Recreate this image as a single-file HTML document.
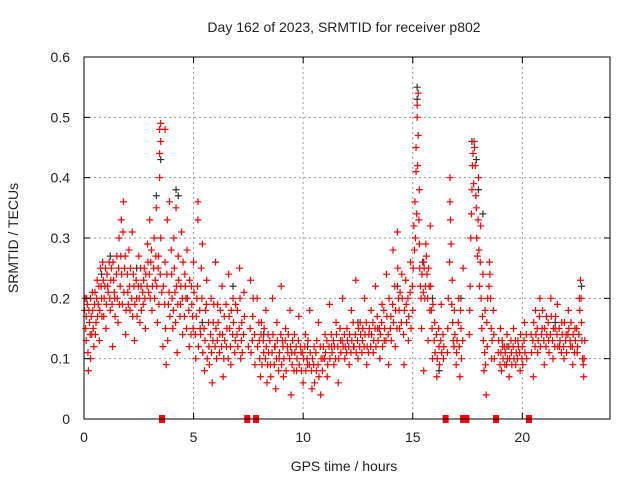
<!DOCTYPE html>
<html><head><meta charset="utf-8"><style>
html,body{margin:0;padding:0;background:#fff;}
svg{display:block;font-family:"Liberation Sans",sans-serif;}
</style></head><body>
<svg id="chart" width="640" height="480">
<rect width="640" height="480" fill="#fff"/>
<g id="grid"></g>
<g id="marks"></g>
<rect x="84" y="57" width="526" height="362" fill="none" stroke="#000" stroke-width="1"/>
<g id="ticks"></g>
<text x="344" y="32" text-anchor="middle" font-size="14" fill="#222">Day 162 of 2023, SRMTID for receiver p802</text>
<text x="344" y="471" text-anchor="middle" font-size="14" fill="#222">GPS time / hours</text>
<text transform="translate(18,238) rotate(-90)" text-anchor="middle" font-size="14" fill="#222">SRMTID / TECUs</text>
</svg>
<script>
const xTicks=[0,5,10,15,20];
const yTicks=[0,0.1,0.2,0.3,0.4,0.5,0.6];
const yTickLabels=["0","0.1","0.2","0.3","0.4","0.5","0.6"];
const gapHours=[3.56,7.45,7.85,16.5,17.3,17.45,18.8,20.3];
const blackPts=[[0.8,0.24],[1.2,0.27],[2.4,0.25],[3.3,0.37],[3.5,0.43],[4.2,0.38],[4.3,0.37],[5.4,0.16],[6.8,0.22],[8.2,0.14],[10.2,0.12],[12.5,0.16],[14.3,0.22],[15.2,0.55],[15.2,0.53],[15.5,0.26],[15.9,0.2],[16.2,0.08],[17.2,0.2],[17.7,0.46],[17.9,0.43],[18.0,0.38],[18.2,0.34],[19.3,0.12],[21.5,0.16],[22.7,0.22]];
const redPts=[
[0.05,0.2],[0.1,0.17],[0.1,0.13],[0.15,0.19],[0.2,0.08],[0.25,0.16],[0.3,0.1],[0.3,0.2],[0.35,0.14],[0.4,0.18],[0.45,0.12],[0.5,0.21],[0.55,0.16],[0.6,0.23],[0.65,0.19],[0.7,0.13],[0.75,0.25],[0.8,0.2],[0.85,0.26],[0.9,0.17],[0.95,0.22],[1.0,0.15],[1.05,0.24],[1.1,0.21],[1.2,0.18],[1.25,0.25],[1.3,0.12],[1.35,0.23],[1.4,0.2],[1.5,0.27],[1.55,0.16],[1.6,0.3],[1.65,0.22],[1.7,0.33],[1.75,0.19],[1.8,0.36],[1.85,0.25],[1.9,0.14],[2.0,0.21],[2.05,0.28],[2.1,0.18],[2.2,0.31],[2.25,0.24],[2.3,0.13],[2.4,0.2],[2.5,0.27],[2.55,0.16],[2.6,0.22],[2.7,0.19],[2.75,0.25],[2.8,0.15],[2.9,0.29],[2.95,0.21],[3.0,0.33],[3.05,0.26],[3.1,0.18],[3.2,0.3],[3.25,0.23],[3.3,0.35],[3.35,0.16],[3.4,0.27],[3.45,0.4],[3.45,0.44],[3.45,0.48],[3.5,0.49],[3.5,0.46],[3.5,0.3],[3.55,0.21],[3.6,0.12],[3.7,0.48],[3.7,0.26],[3.75,0.09],[3.8,0.33],[3.85,0.19],[3.9,0.36],[4.0,0.24],[4.05,0.15],[4.1,0.3],[4.15,0.21],[4.2,0.35],[4.25,0.11],[4.3,0.27],[4.4,0.19],[4.45,0.31],[4.5,0.14],[4.6,0.24],[4.65,0.2],[4.7,0.28],[4.8,0.12],[4.9,0.22],[4.95,0.17],[5.0,0.26],[5.1,0.1],[5.15,0.2],[5.2,0.36],[5.2,0.33],[5.3,0.15],[5.35,0.25],[5.4,0.29],[5.5,0.08],[5.55,0.18],[5.6,0.23],[5.7,0.12],[5.8,0.2],[5.85,0.06],[5.9,0.16],[6.0,0.26],[6.05,0.1],[6.1,0.19],[6.2,0.14],[6.3,0.22],[6.35,0.07],[6.4,0.17],[6.5,0.12],[6.6,0.24],[6.65,0.15],[6.7,0.09],[6.8,0.2],[6.9,0.13],[7.0,0.18],[7.1,0.25],[7.15,0.1],[7.2,0.16],[7.3,0.21],[7.5,0.12],[7.6,0.23],[7.7,0.17],[7.8,0.09],[7.9,0.2],[8.0,0.13],[8.05,0.07],[8.1,0.16],[8.2,0.11],[8.3,0.18],[8.35,0.06],[8.4,0.14],[8.5,0.09],[8.6,0.2],[8.7,0.12],[8.75,0.05],[8.8,0.16],[8.9,0.1],[9.0,0.22],[9.05,0.13],[9.1,0.07],[9.2,0.15],[9.3,0.11],[9.4,0.18],[9.45,0.04],[9.5,0.09],[9.6,0.14],[9.7,0.08],[9.8,0.17],[9.9,0.11],[10.0,0.06],[10.1,0.14],[10.2,0.09],[10.3,0.18],[10.4,0.05],[10.5,0.12],[10.6,0.08],[10.7,0.16],[10.8,0.04],[10.9,0.1],[11.0,0.14],[11.1,0.07],[11.2,0.19],[11.3,0.12],[11.4,0.09],[11.5,0.16],[11.6,0.06],[11.7,0.13],[11.8,0.2],[11.9,0.1],[12.0,0.15],[12.1,0.09],[12.2,0.18],[12.3,0.12],[12.4,0.23],[12.5,0.1],[12.6,0.16],[12.7,0.13],[12.8,0.2],[12.9,0.09],[13.0,0.14],[13.1,0.18],[13.2,0.11],[13.3,0.22],[13.4,0.15],[13.5,0.1],[13.6,0.19],[13.7,0.13],[13.8,0.24],[13.9,0.09],[14.0,0.17],[14.1,0.28],[14.2,0.12],[14.3,0.31],[14.35,0.2],[14.4,0.15],[14.5,0.24],[14.6,0.09],[14.7,0.19],[14.8,0.13],[14.9,0.26],[15.0,0.18],[15.05,0.32],[15.1,0.36],[15.15,0.41],[15.15,0.45],[15.2,0.5],[15.2,0.52],[15.25,0.54],[15.25,0.47],[15.3,0.38],[15.3,0.29],[15.35,0.22],[15.4,0.15],[15.45,0.26],[15.5,0.08],[15.55,0.2],[15.6,0.29],[15.65,0.24],[15.7,0.13],[15.75,0.22],[15.8,0.32],[15.85,0.18],[15.9,0.1],[16.0,0.16],[16.1,0.07],[16.2,0.12],[16.3,0.19],[16.4,0.1],[16.6,0.15],[16.7,0.4],[16.7,0.36],[16.75,0.29],[16.8,0.23],[16.85,0.13],[16.9,0.18],[17.0,0.11],[17.1,0.2],[17.15,0.07],[17.2,0.15],[17.3,0.25],[17.6,0.18],[17.65,0.3],[17.7,0.38],[17.75,0.44],[17.8,0.46],[17.85,0.42],[17.9,0.35],[17.95,0.27],[18.0,0.4],[18.05,0.22],[18.1,0.32],[18.15,0.15],[18.2,0.24],[18.25,0.08],[18.3,0.18],[18.35,0.04],[18.4,0.12],[18.5,0.26],[18.55,0.2],[18.6,0.1],[18.7,0.14],[18.9,0.11],[19.0,0.15],[19.05,0.08],[19.1,0.12],[19.2,0.09],[19.3,0.14],[19.4,0.07],[19.5,0.11],[19.6,0.15],[19.7,0.09],[19.8,0.13],[19.9,0.08],[20.0,0.12],[20.1,0.16],[20.2,0.1],[20.4,0.14],[20.5,0.07],[20.6,0.18],[20.7,0.11],[20.8,0.2],[20.9,0.15],[21.0,0.09],[21.1,0.17],[21.2,0.13],[21.3,0.2],[21.4,0.1],[21.5,0.15],[21.6,0.19],[21.7,0.12],[21.8,0.16],[21.9,0.1],[22.0,0.14],[22.1,0.18],[22.2,0.12],[22.3,0.09],[22.4,0.15],[22.5,0.11],[22.6,0.2],[22.65,0.23],[22.7,0.16],[22.75,0.1],[22.8,0.07],[22.85,0.13]
];
const redPts2=[
[0.02,0.18],[0.08,0.15],[0.12,0.2],[0.18,0.11],[0.22,0.18],[0.28,0.14],[0.33,0.17],[0.38,0.21],[0.42,0.15],[0.48,0.19],[0.52,0.14],[0.58,0.2],[0.62,0.17],[0.68,0.22],[0.72,0.18],[0.78,0.22],[0.82,0.17],[0.88,0.23],[0.92,0.2],[0.98,0.25],[1.02,0.19],[1.08,0.22],[1.15,0.26],[1.18,0.2],[1.22,0.23],[1.28,0.19],[1.32,0.26],[1.38,0.21],[1.42,0.17],[1.48,0.24],[1.52,0.2],[1.58,0.25],[1.62,0.19],[1.68,0.27],[1.72,0.24],[1.78,0.31],[1.82,0.21],[1.88,0.27],[1.92,0.18],[1.98,0.24],[2.02,0.19],[2.08,0.22],[2.12,0.25],[2.18,0.2],[2.22,0.17],[2.28,0.22],[2.32,0.19],[2.38,0.23],[2.42,0.17],[2.48,0.22],[2.52,0.2],[2.58,0.25],[2.62,0.18],[2.68,0.21],[2.72,0.23],[2.78,0.2],[2.82,0.24],[2.88,0.22],[2.92,0.26],[2.98,0.24],[3.02,0.2],[3.08,0.28],[3.12,0.22],[3.18,0.25],[3.22,0.2],[3.28,0.27],[3.32,0.22],[3.38,0.25],[3.42,0.19],[3.48,0.24],[3.62,0.22],[3.68,0.19],[3.72,0.15],[3.78,0.24],[3.82,0.13],[3.88,0.21],[3.92,0.17],[3.98,0.28],[4.02,0.2],[4.08,0.18],[4.12,0.25],[4.18,0.16],[4.22,0.22],[4.28,0.19],[4.32,0.23],[4.38,0.17],[4.42,0.22],[4.48,0.2],[4.52,0.26],[4.58,0.17],[4.62,0.22],[4.68,0.15],[4.72,0.2],[4.78,0.18],[4.82,0.23],[4.88,0.14],[4.92,0.19],[4.98,0.15],[5.02,0.21],[5.08,0.14],[5.12,0.17],[5.18,0.22],[5.22,0.12],[5.28,0.18],[5.32,0.14],[5.38,0.2],[5.42,0.11],[5.48,0.15],[5.52,0.13],[5.58,0.19],[5.62,0.1],[5.68,0.16],[5.72,0.09],[5.78,0.14],[5.82,0.11],[5.88,0.13],[5.92,0.19],[5.98,0.12],[6.02,0.15],[6.08,0.13],[6.12,0.16],[6.18,0.11],[6.22,0.18],[6.28,0.12],[6.32,0.14],[6.38,0.1],[6.42,0.13],[6.48,0.19],[6.52,0.15],[6.58,0.1],[6.62,0.17],[6.68,0.12],[6.72,0.18],[6.78,0.14],[6.82,0.16],[6.88,0.11],[6.92,0.19],[6.98,0.14],[7.02,0.12],[7.08,0.15],[7.12,0.2],[7.18,0.13],[7.22,0.11],[7.28,0.14],[7.32,0.17],[7.58,0.15],[7.62,0.11],[7.68,0.13],[7.72,0.2],[7.78,0.14],[7.92,0.12],[7.98,0.16],[8.02,0.1],[8.08,0.14],[8.12,0.09],[8.18,0.13],[8.22,0.15],[8.28,0.1],[8.32,0.12],[8.38,0.09],[8.42,0.11],[8.48,0.13],[8.52,0.07],[8.58,0.11],[8.62,0.14],[8.68,0.09],[8.72,0.12],[8.78,0.1],[8.82,0.13],[8.88,0.08],[8.92,0.11],[8.98,0.14],[9.02,0.09],[9.08,0.12],[9.12,0.1],[9.18,0.13],[9.22,0.08],[9.28,0.12],[9.32,0.14],[9.38,0.1],[9.42,0.12],[9.48,0.11],[9.52,0.13],[9.58,0.08],[9.62,0.11],[9.68,0.12],[9.72,0.1],[9.78,0.13],[9.82,0.09],[9.88,0.12],[9.92,0.08],[9.98,0.11],[10.02,0.1],[10.08,0.12],[10.12,0.08],[10.18,0.1],[10.22,0.13],[10.28,0.09],[10.32,0.11],[10.38,0.08],[10.42,0.1],[10.48,0.09],[10.52,0.06],[10.58,0.11],[10.62,0.13],[10.68,0.09],[10.72,0.07],[10.78,0.12],[10.82,0.1],[10.88,0.08],[10.92,0.12],[10.98,0.1],[11.02,0.11],[11.08,0.13],[11.12,0.09],[11.18,0.12],[11.22,0.1],[11.28,0.14],[11.32,0.11],[11.38,0.13],[11.42,0.12],[11.48,0.1],[11.52,0.14],[11.58,0.12],[11.62,0.1],[11.68,0.15],[11.72,0.11],[11.78,0.13],[11.82,0.12],[11.88,0.14],[11.92,0.12],[11.98,0.11],[12.02,0.13],[12.08,0.12],[12.12,0.14],[12.18,0.11],[12.22,0.13],[12.28,0.16],[12.32,0.12],[12.38,0.14],[12.42,0.11],[12.48,0.13],[12.52,0.15],[12.58,0.12],[12.62,0.14],[12.68,0.11],[12.72,0.15],[12.78,0.12],[12.82,0.14],[12.88,0.16],[12.92,0.12],[12.98,0.11],[13.02,0.15],[13.08,0.12],[13.12,0.14],[13.18,0.16],[13.22,0.13],[13.28,0.15],[13.32,0.12],[13.38,0.17],[13.42,0.13],[13.48,0.15],[13.52,0.14],[13.58,0.16],[13.62,0.12],[13.68,0.18],[13.72,0.15],[13.78,0.13],[13.82,0.17],[13.88,0.14],[13.92,0.2],[13.98,0.15],[14.02,0.13],[14.08,0.19],[14.12,0.16],[14.18,0.22],[14.22,0.18],[14.28,0.15],[14.32,0.25],[14.38,0.18],[14.42,0.21],[14.48,0.16],[14.52,0.2],[14.58,0.14],[14.62,0.18],[14.68,0.23],[14.72,0.16],[14.78,0.2],[14.82,0.17],[14.88,0.21],[14.92,0.15],[14.98,0.22],[15.02,0.25],[15.08,0.28],[15.12,0.3],[15.18,0.34],[15.22,0.42],[15.28,0.33],[15.32,0.25],[15.38,0.2],[15.42,0.24],[15.48,0.21],[15.52,0.25],[15.58,0.22],[15.62,0.27],[15.68,0.2],[15.72,0.25],[15.78,0.18],[15.82,0.22],[15.88,0.15],[15.92,0.19],[15.98,0.13],[16.02,0.11],[16.08,0.14],[16.12,0.1],[16.18,0.15],[16.22,0.09],[16.28,0.13],[16.32,0.11],[16.38,0.14],[16.42,0.12],[16.58,0.11],[16.62,0.2],[16.68,0.26],[16.72,0.33],[16.78,0.19],[16.82,0.16],[16.88,0.12],[16.92,0.14],[16.98,0.09],[17.02,0.13],[17.08,0.16],[17.12,0.12],[17.18,0.18],[17.22,0.1],[17.28,0.13],[17.58,0.14],[17.62,0.22],[17.68,0.34],[17.72,0.42],[17.78,0.39],[17.82,0.45],[17.88,0.37],[17.92,0.3],[17.98,0.33],[18.02,0.28],[18.08,0.26],[18.12,0.2],[18.18,0.17],[18.22,0.13],[18.28,0.11],[18.32,0.09],[18.38,0.16],[18.42,0.2],[18.48,0.22],[18.52,0.24],[18.58,0.15],[18.62,0.13],[18.68,0.18],[18.72,0.1],[18.92,0.13],[18.98,0.09],[19.02,0.11],[19.08,0.13],[19.12,0.1],[19.18,0.12],[19.22,0.11],[19.28,0.09],[19.32,0.1],[19.38,0.12],[19.42,0.1],[19.48,0.13],[19.52,0.09],[19.58,0.12],[19.62,0.1],[19.68,0.13],[19.72,0.11],[19.78,0.1],[19.82,0.12],[19.88,0.11],[19.92,0.14],[19.98,0.1],[20.02,0.09],[20.08,0.13],[20.12,0.11],[20.18,0.14],[20.42,0.11],[20.48,0.13],[20.52,0.16],[20.58,0.12],[20.62,0.14],[20.68,0.15],[20.72,0.13],[20.78,0.17],[20.82,0.12],[20.88,0.14],[20.92,0.18],[20.98,0.13],[21.02,0.15],[21.08,0.12],[21.12,0.14],[21.18,0.16],[21.22,0.11],[21.28,0.14],[21.32,0.17],[21.38,0.13],[21.42,0.15],[21.48,0.12],[21.52,0.17],[21.58,0.14],[21.62,0.12],[21.68,0.15],[21.72,0.13],[21.78,0.11],[21.82,0.14],[21.88,0.12],[21.92,0.16],[21.98,0.13],[22.02,0.11],[22.08,0.14],[22.12,0.15],[22.18,0.13],[22.22,0.16],[22.28,0.12],[22.32,0.14],[22.38,0.11],[22.42,0.13],[22.48,0.15],[22.52,0.12],[22.58,0.14],[22.62,0.18],[22.68,0.2],[22.72,0.13],[22.78,0.09],[22.82,0.1]
];
const X0=84,X1=610,Y0=419,Y1=57,XMAX=24,YMAX=0.6;
function xs(t){return X0+(X1-X0)*t/XMAX;}
function ys(v){return Y0-(Y0-Y1)*v/YMAX;}
const NS="http://www.w3.org/2000/svg";
const grid=document.getElementById('grid'),ticks=document.getElementById('ticks'),marks=document.getElementById('marks');
function mk(tag,attrs,parent){const e=document.createElementNS(NS,tag);for(const k in attrs)e.setAttribute(k,attrs[k]);parent.appendChild(e);return e;}
xTicks.forEach(t=>{const x=xs(t);
 if(t>0){const g=mk('line',{x1:x,y1:Y1,x2:x,y2:Y0,stroke:'#999','stroke-dasharray':'2,3'},grid);
 
 }
 const l=mk('line',{x1:x,y1:Y0,x2:x,y2:Y0-6,stroke:'#000'},ticks);
 
 
 mk('line',{x1:x,y1:Y1,x2:x,y2:Y1+6,stroke:'#000'},ticks);
 const tx=mk('text',{x:x,y:442,'text-anchor':'middle','font-size':14,fill:'#222'},ticks);tx.textContent=t;
 
 
});
yTicks.forEach((v,i)=>{const y=ys(v);
 if(v>0&&v<0.6){const g=mk('line',{x1:X0,y1:y,x2:X1,y2:y,stroke:'#999','stroke-dasharray':'2,3'},grid);
 
 }
 const l=mk('line',{x1:X0,y1:y,x2:X0+6,y2:y,stroke:'#000'},ticks);
 
 
 mk('line',{x1:X1,y1:y,x2:X1-6,y2:y,stroke:'#000'},ticks);
 const tx=mk('text',{x:70,y:y+5,'text-anchor':'end','font-size':14,fill:'#222'},ticks);tx.textContent=yTickLabels[i];
 
 
});
function cross(p,color,name){const x=xs(p[0]),y=ys(p[1]);
 const e=mk('path',{d:`M${x-3.5},${y}H${x+3.5}M${x},${y-3.5}V${y+3.5}`,stroke:color,'stroke-width':1.2,fill:'none'},marks);
 
 }
blackPts.forEach(p=>cross(p,'#333','black-point'));
redPts.forEach(p=>cross(p,'#f00','red-point'));
redPts2.forEach(p=>cross(p,'#f00','red-point'));
gapHours.forEach(t=>{const r=mk('rect',{x:xs(t)-3,y:Y0-4,width:6,height:8,fill:'#f00'},marks);
 
 });
</script>
</body></html>
